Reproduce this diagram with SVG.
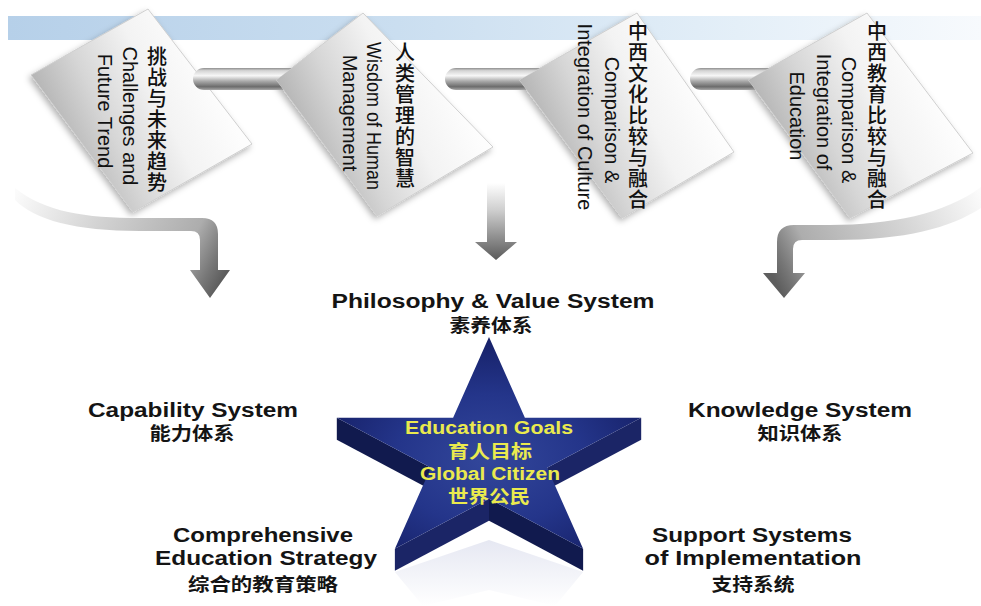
<svg xmlns="http://www.w3.org/2000/svg" width="981" height="606" viewBox="0 0 981 606">
<defs>
<linearGradient id="band" x1="8" y1="0" x2="981" y2="0" gradientUnits="userSpaceOnUse">
<stop offset="0" stop-color="#b6d0e9"/><stop offset="0.4" stop-color="#cadef0"/><stop offset="0.75" stop-color="#e4eff8"/><stop offset="1" stop-color="#f7fafd"/>
</linearGradient>
<linearGradient id="tube" x1="0" y1="0" x2="0" y2="1">
<stop offset="0" stop-color="#8e8e8e"/><stop offset="0.12" stop-color="#d4d4d4"/><stop offset="0.35" stop-color="#f7f7f7"/><stop offset="0.6" stop-color="#a9a9a9"/><stop offset="0.85" stop-color="#6c6c6c"/><stop offset="1" stop-color="#a8a8a8"/>
</linearGradient>
<linearGradient id="dia" x1="0" y1="0.65" x2="0.8" y2="0.3">
<stop offset="0" stop-color="#a2a2a2"/><stop offset="0.4" stop-color="#d6d6d6"/><stop offset="0.7" stop-color="#f3f3f3"/><stop offset="1" stop-color="#fdfdfd"/>
</linearGradient>
<linearGradient id="arrL" x1="15" y1="195" x2="212" y2="298" gradientUnits="userSpaceOnUse">
<stop offset="0" stop-color="#fbfbfb"/><stop offset="0.4" stop-color="#d2d2d2"/><stop offset="0.8" stop-color="#adadad"/><stop offset="0.93" stop-color="#777"/><stop offset="1" stop-color="#5e5e5e"/>
</linearGradient>
<linearGradient id="arrR" x1="981" y1="195" x2="784" y2="298" gradientUnits="userSpaceOnUse">
<stop offset="0" stop-color="#fbfbfb"/><stop offset="0.4" stop-color="#d2d2d2"/><stop offset="0.8" stop-color="#adadad"/><stop offset="0.93" stop-color="#777"/><stop offset="1" stop-color="#5e5e5e"/>
</linearGradient>
<linearGradient id="arrM" x1="0" y1="183" x2="0" y2="260" gradientUnits="userSpaceOnUse">
<stop offset="0" stop-color="#ffffff"/><stop offset="0.35" stop-color="#cfcfcf"/><stop offset="0.75" stop-color="#878787"/><stop offset="1" stop-color="#5a5a5a"/>
</linearGradient>
<radialGradient id="sf" cx="0.5" cy="0.58" r="0.62">
<stop offset="0" stop-color="#33479b"/><stop offset="0.5" stop-color="#24358a"/><stop offset="1" stop-color="#141d62"/>
</radialGradient>
<linearGradient id="refl" x1="0" y1="0" x2="0" y2="1">
<stop offset="0" stop-color="#9aa2cc" stop-opacity="0.25"/><stop offset="1" stop-color="#9aa2cc" stop-opacity="0"/>
</linearGradient>
<filter id="sh" x="-20%" y="-20%" width="140%" height="140%">
<feDropShadow dx="-2" dy="3" stdDeviation="3" flood-color="#000" flood-opacity="0.3"/>
</filter>
</defs>
<style>
.lbl{font-family:"Liberation Sans",Arial,sans-serif;font-weight:bold;font-size:20px;fill:#141414;text-anchor:middle}
.cjk{font-family:"Noto Sans CJK SC",sans-serif;font-weight:bold;font-size:18px;fill:#141414;text-anchor:middle}
.dt{font-family:"Liberation Sans",Arial,sans-serif;font-size:20px;fill:#111;text-anchor:middle;dominant-baseline:central}
.dc{font-family:"Noto Sans CJK SC",sans-serif;font-weight:500;font-size:20px;fill:#111;text-anchor:middle}
.st{font-family:"Liberation Sans",Arial,sans-serif;font-weight:bold;font-size:18px;fill:#eaea4e;text-anchor:middle}
.sc{font-family:"Noto Sans CJK SC",sans-serif;font-weight:bold;font-size:18px;fill:#eaea4e;text-anchor:middle}
.d{fill:url(#dia);stroke:#cfcfcf;stroke-width:1;filter:url(#sh)}
.tb{fill:url(#tube)}
</style>
<rect x="8" y="16" width="973" height="24" fill="url(#band)"/>

<g id="n1">
<polygon class="d" points="148,9 252,144 133,212 31,75"/>
<text class="dc" x="157 157 157 157 157 157 157" y="64 85 106 127 148 169 190">挑战与未来趋势</text>
<text class="dt" transform="translate(130,116) rotate(90)">Challenges and</text>
<text class="dt" transform="translate(105,111) rotate(90)">Future Trend</text>
</g>
<g id="n2">
<polygon class="d" points="363,13 493,147 377,216 276,80"/>
<text class="dc" x="405 405 405 405 405 405 405" y="60 81 102 123 144 165 186">人类管理的智慧</text>
<text class="dt" transform="translate(374,116) rotate(90)" textLength="148" lengthAdjust="spacingAndGlyphs">Wisdom of Human</text>
<text class="dt" transform="translate(350,113) rotate(90)">Management</text>
</g>
<g id="n3">
<polygon class="d" points="637,13 734,152 622,218 519,80"/>
<text class="dc" x="638 638 638 638 638 638 638 638 638" y="39 60 81 102 123 144 165 186 207">中西文化比较与融合</text>
<text class="dt" transform="translate(612,120) rotate(90)">Comparison &amp;</text>
<text class="dt" transform="translate(585,117) rotate(90)">Integration of Culture</text>
</g>
<g id="n4">
<polygon class="d" points="867,13 973,153 850,218 748,80"/>
<text class="dc" x="877 877 877 877 877 877 877 877 877" y="39 60 81 102 123 144 165 186 207">中西教育比较与融合</text>
<text class="dt" transform="translate(849,120) rotate(90)">Comparison &amp;</text>
<text class="dt" transform="translate(824,112) rotate(90)">Integration of</text>
<text class="dt" transform="translate(797,116) rotate(90)">Education</text>
</g>

<g id="connectors">
<path class="tb" d="M204,68 L291.6,68 L276,80 L283.5,90 L204,90 A11,11 0 0 1 204,68 Z"/>
<path class="tb" d="M456,68 L540,68 L519,80 L526.5,90 L456,90 A11,11 0 0 1 456,68 Z"/>
<path class="tb" d="M701,68 L769.3,68 L748,80 L755.4,90 L701,90 A11,11 0 0 1 701,68 Z"/>
<path fill="url(#arrL)" d="M15,188 C45,212 85,218 140,218 L202,218 Q218,218 218,234 L218,270 L230,270 L210,298 L190,270 L200,270 L200,240 Q200,231 191,231 L140,231 C75,231 35,220 15,200 Z"/>
<path fill="url(#arrM)" d="M487,183 L505,183 L505,242 L517,242 L496,260 L475,242 L487,242 Z"/>
<path fill="url(#arrR)" d="M981,187 C945,214 890,225 830,225 L794,225 Q777,225 777,242 L777,273 L763,273 L784,298 L805,273 L793,273 L793,249 Q793,240 802,240 L835,240 C905,240 950,228 981,208 Z"/>
</g>

<g id="philosophy">
<text class="lbl" x="493" y="308" font-size="21" textLength="323" lengthAdjust="spacingAndGlyphs">Philosophy &amp; Value System</text>
<text class="cjk" x="491" y="332" textLength="83" lengthAdjust="spacingAndGlyphs">素养体系</text>
</g>
<g id="capability">
<text class="lbl" x="193" y="417" textLength="210" lengthAdjust="spacingAndGlyphs">Capability System</text>
<text class="cjk" x="192" y="440" textLength="85" lengthAdjust="spacingAndGlyphs">能力体系</text>
</g>
<g id="knowledge">
<text class="lbl" x="800" y="417" textLength="224" lengthAdjust="spacingAndGlyphs">Knowledge System</text>
<text class="cjk" x="800" y="440" textLength="85" lengthAdjust="spacingAndGlyphs">知识体系</text>
</g>
<g id="strategy">
<text class="lbl" x="263" y="542" textLength="180" lengthAdjust="spacingAndGlyphs">Comprehensive</text>
<text class="lbl" x="266" y="565" textLength="222" lengthAdjust="spacingAndGlyphs">Education Strategy</text>
<text class="cjk" x="263" y="591" textLength="150" lengthAdjust="spacingAndGlyphs">综合的教育策略</text>
</g>
<g id="support">
<text class="lbl" x="752" y="542" textLength="200" lengthAdjust="spacingAndGlyphs">Support Systems</text>
<text class="lbl" x="753" y="565" textLength="217" lengthAdjust="spacingAndGlyphs">of Implementation</text>
<text class="cjk" x="753" y="591" textLength="83" lengthAdjust="spacingAndGlyphs">支持系统</text>
</g>

<g id="star">
<polygon points="394.9,572 489,540 583.1,572 555,606 489,590 423,606" fill="url(#refl)"/>
<polygon points="641.2,417.8 547.1,467.8 547.1,489.8 641.2,439.8" fill="#1b2566"/>
<polygon points="583.1,548.7 489,498.7 489,520.7 583.1,570.7" fill="#111a4e"/>
<polygon points="489,498.7 394.9,548.7 394.9,570.7 489,520.7" fill="#1b2566"/>
<polygon points="430.9,467.8 336.8,417.8 336.8,439.8 430.9,489.8" fill="#111a4e"/>
<polygon points="489,337 524.9,417.8 641.2,417.8 547.1,467.8 583.1,548.7 489,498.7 394.9,548.7 430.9,467.8 336.8,417.8 453.1,417.8" fill="url(#sf)"/>
<text class="st" x="489" y="434" textLength="168" lengthAdjust="spacingAndGlyphs">Education Goals</text>
<text class="sc" x="490" y="458" textLength="84" lengthAdjust="spacingAndGlyphs">育人目标</text>
<text class="st" x="490" y="480" textLength="140" lengthAdjust="spacingAndGlyphs">Global Citizen</text>
<text class="sc" x="489" y="503" textLength="82" lengthAdjust="spacingAndGlyphs">世界公民</text>
</g>
</svg>
